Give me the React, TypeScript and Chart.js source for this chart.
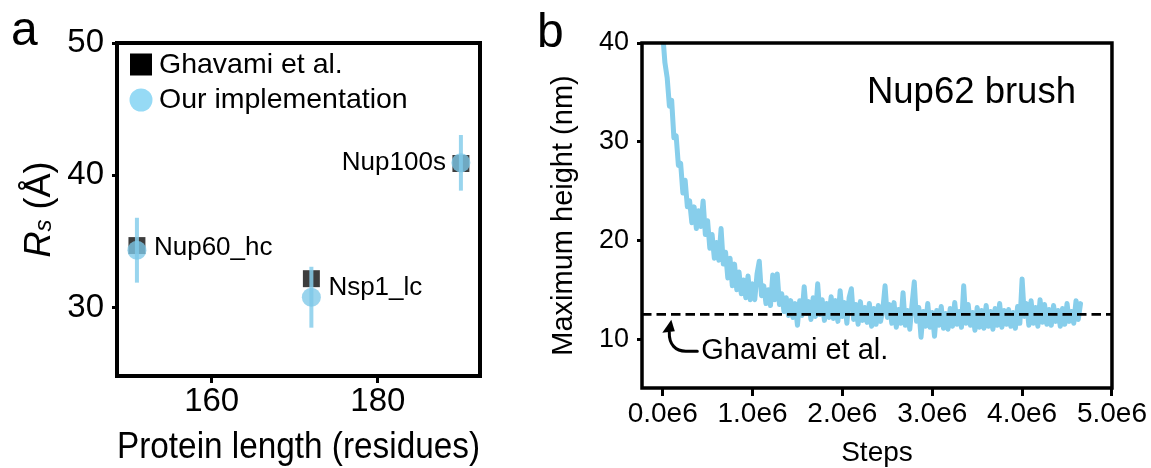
import React, { useEffect, useRef } from 'react';
import { Chart, registerables } from 'chart.js';

Chart.register(...registerables);

const FONT = '"Liberation Sans", Arial, Helvetica, sans-serif';

// ---------- Panel a data ----------
const proteins = ['Nup60_hc', 'Nsp1_lc', 'Nup100s'];
const proteinLength = [151, 172, 190];
const rsGhavami = [34.7, 32.2, 40.9];
const rsOurs = [34.35, 30.8, 40.95];
const rsOursErr = [2.45, 2.3, 2.1];
const labelSide = ['right', 'right', 'left'];
const xTicksA = [160, 180];
const yTicksA = [30, 40, 50];
const legendA = ['Ghavami et al.', 'Our implementation'];

// ---------- Panel b data ----------
const stepInterval = 25000;
const maxHeight = [
  41.0, 38.0, 36.5, 33.6, 34.2, 30.4, 30.6, 27.6, 27.8, 24.8,
  26.1, 23.4, 24.0, 21.8, 23.4, 21.2, 23.0, 21.4, 24.0, 20.6,
  22.0, 19.2, 20.6, 18.2, 19.8, 18.0, 21.2, 17.6, 18.8, 16.2,
  18.2, 15.4, 17.6, 15.0, 16.8, 14.6, 16.0, 14.2, 16.4, 14.0,
  15.6, 14.0, 16.6, 17.9, 14.4, 15.4, 13.6, 15.0, 13.4, 16.5,
  14.0, 16.6, 13.5, 14.6, 12.8, 14.2, 12.4, 13.9, 12.2, 13.6,
  11.4, 13.9, 12.4, 15.3, 12.6, 13.8, 12.0, 14.2, 12.3, 15.6,
  12.5, 14.0, 11.9, 13.6, 12.2, 14.3, 12.1, 13.9, 11.8, 14.9,
  12.3, 13.7, 11.6, 14.2, 15.1, 12.0, 13.5, 11.5, 13.8, 11.9,
  13.2, 11.7, 13.6, 11.3, 13.1, 11.5, 13.4, 11.8, 13.0, 15.4,
  12.2, 13.5, 11.6, 13.7, 11.2, 13.0, 11.6, 14.7, 11.4, 12.9,
  11.0, 13.5, 15.8, 11.8, 13.2, 10.2, 12.8, 11.3, 13.6, 11.2,
  12.7, 10.3, 12.9, 11.4, 13.3, 11.1, 12.6, 11.0, 13.1, 11.3,
  13.7, 11.5, 12.8, 11.2, 15.4, 11.6, 13.5, 11.4, 12.7, 10.9,
  13.2, 11.2, 12.9, 11.1, 13.4, 11.3, 12.8, 11.0, 13.1, 11.4,
  13.6, 11.2, 12.9, 11.5, 13.0, 11.3, 12.7, 11.1, 13.3, 11.6,
  16.1, 12.3, 13.6, 11.4, 13.9, 11.6, 13.2, 11.3, 14.0, 11.7,
  13.5, 11.5, 13.0, 11.4, 13.4, 11.8, 12.9, 11.3, 13.1, 11.5,
  13.6, 11.8, 12.8, 11.6, 13.9, 12.0, 13.6,
];
const ghavamiHeight = 12.5;
const xTicksB = [0, 1e6, 2e6, 3e6, 4e6, 5e6];
const xTickLabelsB = ['0.0e6', '1.0e6', '2.0e6', '3.0e6', '4.0e6', '5.0e6'];
const yTicksB = [10, 20, 30, 40];
const brushLabel = 'Nup62 brush';
const annotText = 'Ghavami et al.';
const annotStep = 0.43e6;
const annotValue = 8.78;

const GH_COLOR = 'rgba(0,0,0,0.76)';
const OURS_COLOR = 'rgba(125,200,232,0.78)';
const ERR_COLOR = 'rgba(135,206,235,0.85)';
const TRACE_COLOR = '#87CEEB';

const panelAPlugin = {
  id: 'panelA',
  beforeDatasetDraw(chart: any, args: any) {
    if (args.index !== 1) return;
    const { ctx, scales } = chart;
    const x = scales.x, y = scales.y;
    ctx.save();
    ctx.strokeStyle = ERR_COLOR;
    ctx.lineWidth = 4;
    proteinLength.forEach((L, i) => {
      const px = x.getPixelForValue(L);
      ctx.beginPath();
      ctx.moveTo(px, y.getPixelForValue(rsOurs[i] - rsOursErr[i]));
      ctx.lineTo(px, y.getPixelForValue(rsOurs[i] + rsOursErr[i]));
      ctx.stroke();
    });
    ctx.restore();
  },
  afterDraw(chart: any) {
    const { ctx, chartArea: a, scales } = chart;
    const x = scales.x, y = scales.y;
    ctx.save();
    ctx.lineWidth = 4;
    ctx.strokeStyle = '#000';
    ctx.strokeRect(a.left, a.top, a.right - a.left, a.bottom - a.top);
    ctx.fillStyle = '#000';
    ctx.font = `26px ${FONT}`;
    ctx.textBaseline = 'middle';
    proteins.forEach((name, i) => {
      const px = x.getPixelForValue(proteinLength[i]);
      const py = y.getPixelForValue((rsGhavami[i] + rsOurs[i]) / 2);
      if (labelSide[i] === 'right') {
        ctx.textAlign = 'left';
        ctx.fillText(name, px + 17, py);
      } else {
        ctx.textAlign = 'right';
        ctx.fillText(name, px - 15, py);
      }
    });
    const lx = a.left + 24;
    ctx.fillStyle = '#000';
    ctx.fillRect(lx - 11, a.top + 21.5 - 11, 22, 22);
    ctx.fillStyle = 'rgba(150,218,245,1)';
    ctx.beginPath();
    ctx.arc(lx, a.top + 57, 11.5, 0, Math.PI * 2);
    ctx.fill();
    ctx.fillStyle = '#000';
    ctx.font = `28.5px ${FONT}`;
    ctx.textAlign = 'left';
    ctx.fillText(legendA[0], a.left + 42, a.top + 22);
    ctx.fillText(legendA[1], a.left + 42, a.top + 57);
    // y title R_s (Å)
    ctx.save();
    ctx.translate(50, (a.top + a.bottom) / 2);
    ctx.rotate(-Math.PI / 2);
    ctx.textBaseline = 'alphabetic';
    ctx.textAlign = 'left';
    const fR = `italic 36px ${FONT}`;
    const fS = `italic 24px ${FONT}`;
    const fN = `36px ${FONT}`;
    ctx.font = fR; const wR = ctx.measureText('R').width;
    ctx.font = fS; const wS = ctx.measureText('s').width;
    ctx.font = fN; const wN = ctx.measureText(' (Å)').width;
    let cx = -(wR + wS + wN) / 2;
    ctx.font = fR; ctx.fillText('R', cx, 0); cx += wR;
    ctx.font = fS; ctx.fillText('s', cx, 1); cx += wS;
    ctx.font = fN; ctx.fillText(' (Å)', cx, 0);
    ctx.restore();
    ctx.font = `48px ${FONT}`;
    ctx.textAlign = 'left';
    ctx.textBaseline = 'alphabetic';
    ctx.fillText('a', 11, 45);
    ctx.restore();
  },
};

const panelBPlugin = {
  id: 'panelB',
  afterDatasetsDraw(chart: any) {
    const { ctx, chartArea: a, scales } = chart;
    const py = scales.y.getPixelForValue(ghavamiHeight);
    ctx.save();
    ctx.beginPath();
    ctx.rect(a.left, a.top, a.right - a.left, a.bottom - a.top);
    ctx.clip();
    ctx.setLineDash([9.5, 5]);
    ctx.lineWidth = 2.7;
    ctx.strokeStyle = '#000';
    ctx.beginPath();
    ctx.moveTo(a.left, py);
    ctx.lineTo(a.right, py);
    ctx.stroke();
    ctx.restore();
  },
  afterDraw(chart: any) {
    const { ctx, chartArea: a, scales } = chart;
    const x = scales.x, y = scales.y;
    ctx.save();
    ctx.lineWidth = 3.5;
    ctx.strokeStyle = '#000';
    ctx.strokeRect(a.left, a.top, a.right - a.left, a.bottom - a.top);
    ctx.fillStyle = '#000';
    ctx.font = `36.5px ${FONT}`;
    ctx.textAlign = 'right';
    ctx.textBaseline = 'alphabetic';
    ctx.fillText(brushLabel, a.right - 36, a.top + 60);
    const tx = x.getPixelForValue(annotStep);
    const ty = y.getPixelForValue(annotValue);
    ctx.font = `29px ${FONT}`;
    ctx.textAlign = 'left';
    ctx.textBaseline = 'middle';
    ctx.fillText(annotText, tx, ty);
    ctx.lineWidth = 3;
    ctx.lineCap = 'round';
    ctx.beginPath();
    ctx.moveTo(tx - 4, ty);
    ctx.lineTo(tx - 15.5, ty);
    ctx.bezierCurveTo(tx - 25.5, ty, tx - 32.5, ty - 6.5, tx - 32, ty - 19);
    ctx.stroke();
    ctx.beginPath();
    ctx.moveTo(tx - 30, ty - 31.5);
    ctx.lineTo(tx - 39, ty - 18.5);
    ctx.lineTo(tx - 26.5, ty - 20);
    ctx.closePath();
    ctx.fill();
    ctx.font = `48px ${FONT}`;
    ctx.textBaseline = 'alphabetic';
    ctx.fillText('b', 17, 47);
    ctx.restore();
  },
};

export default function App() {
  const refA = useRef<HTMLCanvasElement>(null);
  const refB = useRef<HTMLCanvasElement>(null);

  useEffect(() => {
    const chartA = new Chart(refA.current as HTMLCanvasElement, {
      type: 'scatter',
      data: {
        datasets: [
          {
            label: legendA[0],
            data: proteinLength.map((v, i) => ({ x: v, y: rsGhavami[i] })),
            pointStyle: 'rect',
            pointRadius: 12,
            backgroundColor: GH_COLOR,
            borderWidth: 0,
            order: 2,
          },
          {
            label: legendA[1],
            data: proteinLength.map((v, i) => ({ x: v, y: rsOurs[i] })),
            pointStyle: 'circle',
            pointRadius: 9.5,
            backgroundColor: OURS_COLOR,
            borderWidth: 0,
            order: 1,
          },
        ],
      },
      options: {
        responsive: false,
        animation: false,
        devicePixelRatio: 1,
        layout: { padding: { left: 0, top: 43, right: 40, bottom: 0 } },
        plugins: { legend: { display: false }, tooltip: { enabled: false } },
        scales: {
          x: {
            type: 'linear',
            min: 148.6,
            max: 192.3,
            afterFit: (s: any) => { s.height = 92; },
            afterBuildTicks: (s: any) => { s.ticks = xTicksA.map((v) => ({ value: v })); },
            ticks: { font: { family: FONT, size: 33, lineHeight: 1 }, color: '#000', padding: 2, maxRotation: 0, autoSkip: false },
            grid: { drawOnChartArea: false, drawTicks: true, tickLength: 7, lineWidth: 3, color: '#000' },
            border: { display: false },
            title: { display: true, text: 'Protein length (residues)', font: { family: FONT, size: 36.5, lineHeight: 1 }, color: '#000', padding: { top: 0, bottom: 2 } },
          },
          y: {
            type: 'linear',
            min: 24.85,
            max: 50,
            afterFit: (s: any) => { s.width = 117; },
            afterBuildTicks: (s: any) => { s.ticks = yTicksA.map((v) => ({ value: v })); },
            ticks: { font: { family: FONT, size: 33, lineHeight: 1 }, color: '#000', padding: 8, autoSkip: false },
            grid: { drawOnChartArea: false, drawTicks: true, tickLength: 5, lineWidth: 3, color: '#000' },
            border: { display: false },
            title: { display: false },
          },
        },
      } as any,
      plugins: [panelAPlugin],
    });

    const chartB = new Chart(refB.current as HTMLCanvasElement, {
      type: 'scatter',
      data: {
        datasets: [
          {
            label: 'Nup62 brush',
            data: maxHeight.map((v, i) => ({ x: i * stepInterval, y: v })),
            showLine: true,
            borderColor: TRACE_COLOR,
            backgroundColor: TRACE_COLOR,
            borderWidth: 5,
            pointRadius: 0,
            borderJoinStyle: 'round',
            borderCapStyle: 'round',
            tension: 0,
          },
        ],
      },
      options: {
        responsive: false,
        animation: false,
        devicePixelRatio: 1,
        layout: { padding: { left: 0, top: 43, right: 38, bottom: 0 } },
        plugins: { legend: { display: false }, tooltip: { enabled: false } },
        scales: {
          x: {
            type: 'linear',
            min: -0.23e6,
            max: 5e6,
            afterFit: (s: any) => { s.height = 80; },
            afterBuildTicks: (s: any) => { s.ticks = xTicksB.map((v) => ({ value: v })); },
            ticks: {
              font: { family: FONT, size: 28, lineHeight: 1 },
              color: '#000',
              padding: 4,
              maxRotation: 0,
              autoSkip: false,
              callback: (_v: any, i: number) => xTickLabelsB[i],
            },
            grid: { drawOnChartArea: false, drawTicks: true, tickLength: 8, lineWidth: 3, color: '#000' },
            border: { display: false },
            title: { display: true, text: 'Steps', font: { family: FONT, size: 28, lineHeight: 1 }, color: '#000', padding: { top: 0, bottom: 1 } },
          },
          y: {
            type: 'linear',
            min: 5.05,
            max: 40,
            afterFit: (s: any) => { s.width = 122; },
            afterBuildTicks: (s: any) => { s.ticks = yTicksB.map((v) => ({ value: v })); },
            ticks: { font: { family: FONT, size: 27, lineHeight: 1 }, color: '#000', padding: 8, autoSkip: false },
            grid: { drawOnChartArea: false, drawTicks: true, tickLength: 5, lineWidth: 3, color: '#000' },
            border: { display: false },
            title: { display: true, text: 'Maximum height (nm)', font: { family: FONT, size: 29, lineHeight: 1 }, color: '#000', padding: { top: 29, bottom: 0 } },
          },
        },
      } as any,
      plugins: [panelBPlugin],
    });

    return () => {
      chartA.destroy();
      chartB.destroy();
    };
  }, []);

  return (
    <div style={{ position: 'fixed', left: 0, top: 0, width: 1151, height: 468, background: '#fff', overflow: 'hidden' }}>
      <canvas ref={refA} width={520} height={468} style={{ position: 'absolute', left: 0, top: 0, width: 520, height: 468 }} />
      <canvas ref={refB} width={631} height={468} style={{ position: 'absolute', left: 520, top: 0, width: 631, height: 468 }} />
    </div>
  );
}
